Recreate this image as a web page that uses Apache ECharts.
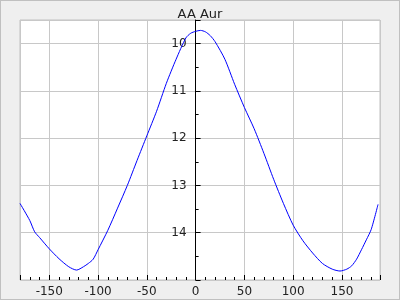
<!DOCTYPE html>
<html><head><meta charset="utf-8">
<script src="https://cdn.jsdelivr.net/npm/echarts@6/dist/echarts.min.js"></script>
<style>
html,body{margin:0;padding:0;}
#c{width:400px;height:300px;box-sizing:border-box;border:1px solid #c0c0c0;background:#efefef;}
</style></head>
<body><div id="c"></div>
<script>
const titleText = "AA Aur";
const phase = [-180,-170,-165,-160,-150,-140,-130,-122,-115,-110,-105,-100,-90,-80,-70,-60,-50,-40,-30,-20,-10,-5,0,5,10,15,20,30,40,50,60,70,80,90,100,110,120,130,140,148,155,160,165,170,175,180,187];
const mag = [13.38,13.74,13.98,14.10,14.34,14.55,14.72,14.79,14.72,14.65,14.56,14.36,13.95,13.48,13.00,12.47,11.95,11.43,10.84,10.33,9.88,9.78,9.74,9.72,9.75,9.83,9.96,10.33,10.86,11.35,11.80,12.32,12.87,13.38,13.84,14.17,14.43,14.65,14.77,14.81,14.77,14.70,14.56,14.36,14.15,13.93,13.40];
const xRange = [-180, 189];
const yRange = [9.5, 15];

const W = 398, H = 298, gl = 19, gr = 19, gt = 19, gb = 19;
const plotW = W - gl - gr;
const yOffset = -(0 - xRange[0]) / (xRange[1] - xRange[0]) * plotW;

const chart = echarts.init(document.getElementById('c'), null, {renderer:'canvas'});
const font = 'DejaVu Sans';
chart.setOption({
  animation:false,
  backgroundColor:'#efefef',
  title:{text:titleText,left:'center',top:2,textStyle:{fontFamily:font,fontSize:13,fontWeight:'normal',color:'#222'}},
  grid:{left:gl,right:gr,top:gt,bottom:gb,containLabel:false,outerBoundsMode:'none',show:true,backgroundColor:'#fff',borderColor:'#c0c0c0',borderWidth:1},
  xAxis:{type:'value',min:xRange[0],max:xRange[1],splitNumber:7,
    axisLine:{show:false,onZero:false},
    axisTick:{show:true,inside:true,length:5,lineStyle:{color:'#000'}},
    minorTick:{show:true,splitNumber:5,length:3,lineStyle:{color:'#000'}},
    axisLabel:{showMinLabel:false,showMaxLabel:false,fontFamily:font,fontSize:12,color:'#222',margin:6},
    splitLine:{show:true,lineStyle:{color:'#c8c8c8',width:1}}},
  yAxis:{type:'value',inverse:true,min:yRange[0],max:yRange[1],splitNumber:5,position:'left',offset:yOffset,
    axisLine:{show:true,onZero:false,lineStyle:{color:'#000',width:1}},
    axisTick:{show:true,inside:true,length:5,lineStyle:{color:'#000'}},
    minorTick:{show:true,splitNumber:2,length:3,lineStyle:{color:'#000'}},
    axisLabel:{showMinLabel:false,showMaxLabel:false,fontFamily:font,fontSize:12,color:'#222',margin:9},
    splitLine:{show:true,lineStyle:{color:'#c8c8c8',width:1}}},
  series:[{type:'line',data:phase.map((p,i)=>[p,mag[i]]),showSymbol:false,smooth:0.25,lineStyle:{color:'#0000ff',width:1},itemStyle:{color:'#0000ff'}}]
});
</script></body></html>
